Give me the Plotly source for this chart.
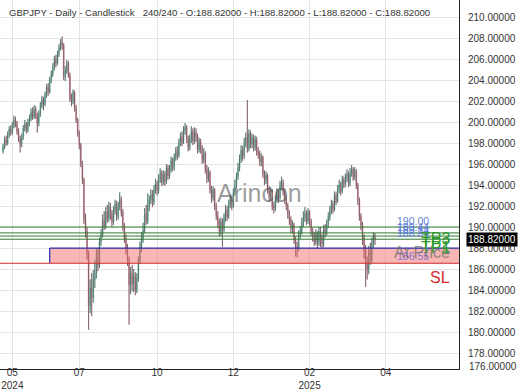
import plotly.graph_objects as go

# ---------------- data ----------------
bars = list(range(240))

opens = [
    197.2, 197.6, 198.3, 198.0, 198.8, 199.3, 199.0, 199.7, 200.2, 199.9,
    199.1, 198.4, 197.9, 198.6, 199.4, 199.8, 199.2, 199.9, 200.3, 200.9,
    200.5, 201.2, 200.6, 199.9, 200.8, 201.6, 202.1, 201.7, 202.6, 203.3,
    202.9, 204.0, 204.6, 205.2, 206.0, 205.6, 206.5, 207.1, 207.6, 207.3,
    204.3, 204.9, 205.6, 204.5, 202.2, 202.0, 202.8, 201.3, 200.2, 198.9,
    197.8, 196.0, 194.5, 190.8, 189.6, 187.5, 182.5, 184.2, 183.3, 185.0,
    185.6, 187.1, 186.4, 188.6, 189.3, 190.6, 190.1, 191.4, 190.8, 191.9,
    191.2, 190.5, 191.6, 192.2, 191.0, 192.0, 192.6, 191.4, 190.0, 188.9,
    188.0, 186.9, 184.5, 185.6, 184.6, 185.3, 184.0, 185.1, 186.8, 188.1,
    188.9, 189.7, 191.2, 190.6, 192.0, 192.6, 193.1, 192.4, 193.6, 194.1,
    193.5, 194.6, 195.1, 194.3, 195.0, 194.4, 195.6, 194.9, 195.5, 196.3,
    195.7, 196.6, 197.2, 196.8, 198.0, 198.6, 198.1, 199.2, 199.5, 198.4,
    197.6, 198.3, 199.1, 198.2, 199.0, 198.6, 197.4, 198.1, 197.5, 196.4,
    197.0, 195.5, 194.6, 195.2, 193.6, 192.8, 193.5, 192.0, 191.1, 190.4,
    189.6, 190.5, 189.8, 190.9, 191.6, 191.0, 192.2, 192.6, 192.0, 193.3,
    194.0, 194.8, 195.6, 196.5, 197.3, 196.8, 198.0, 198.5, 197.5, 198.9,
    197.9, 198.5, 197.6, 198.3, 197.1, 197.0, 196.2, 196.6, 195.1, 194.5,
    194.9, 193.6, 192.9, 193.4, 192.0, 191.8, 192.6, 193.3, 192.8, 193.9,
    194.2, 193.4, 192.7, 192.0, 191.2, 190.7, 189.9, 190.2, 188.8, 188.1,
    188.0, 189.3, 189.6, 190.4, 190.9, 191.3, 190.6, 191.4, 190.5, 189.6,
    189.1, 188.6, 189.4, 188.5, 189.6, 189.0, 188.4, 189.8, 189.5, 190.3,
    191.0, 191.5, 192.2, 191.7, 193.0, 192.5, 193.6, 194.0, 193.4, 194.5,
    194.1, 194.6, 195.0, 194.2, 195.1, 195.5, 194.8, 195.3, 194.0, 192.5,
    191.0, 190.2, 189.0, 187.8, 186.4, 186.0, 187.6, 186.9, 188.5, 189.1,
]

highs = [
    197.9, 198.6, 198.7, 199.1, 199.6, 199.7, 200.0, 200.6, 200.5, 200.1,
    199.4, 198.7, 198.9, 199.7, 200.2, 200.0, 200.3, 200.7, 201.3, 201.4,
    201.6, 201.5, 200.9, 201.1, 201.9, 202.5, 202.4, 202.9, 203.6, 203.7,
    204.3, 204.9, 205.6, 206.3, 206.4, 206.8, 207.4, 207.9, 208.15, 207.5,
    205.3, 205.9, 205.8, 204.7, 202.7, 203.1, 203.0, 201.6, 200.4, 199.2,
    198.0, 196.3, 194.7, 191.3, 190.0, 187.8, 185.0, 185.6, 185.9, 186.8,
    187.9, 188.0, 189.0, 189.8, 191.2, 191.5, 191.9, 192.1, 192.4, 192.3,
    191.6, 192.0, 192.6, 192.5, 192.4, 193.3, 192.9, 191.7, 190.4, 189.3,
    188.4, 187.2, 186.2, 186.4, 186.0, 185.7, 185.6, 187.2, 188.6, 189.5,
    190.4, 191.8, 192.1, 193.2, 193.0, 193.6, 193.5, 194.0, 194.6, 194.4,
    195.0, 195.6, 195.4, 195.4, 195.3, 196.0, 195.9, 195.9, 196.7, 196.6,
    197.0, 197.6, 197.7, 198.4, 199.0, 199.1, 199.6, 199.9, 199.7, 198.7,
    198.8, 199.6, 199.4, 199.5, 199.4, 198.9, 198.5, 198.4, 197.8, 197.5,
    197.2, 195.9, 195.7, 195.4, 193.9, 193.9, 193.7, 192.3, 191.5, 190.8,
    190.9, 190.8, 191.3, 192.1, 192.0, 192.6, 193.1, 193.0, 193.7, 194.5,
    195.2, 196.1, 196.9, 197.8, 197.7, 198.5, 199.0, 202.1, 199.3, 199.2,
    198.9, 198.8, 198.7, 198.6, 197.6, 197.3, 197.0, 196.8, 195.4, 195.3,
    195.1, 193.9, 193.8, 193.6, 192.4, 193.0, 193.7, 193.6, 194.4, 194.8,
    194.5, 193.7, 193.0, 192.3, 191.6, 191.0, 190.6, 190.4, 189.1, 188.6,
    189.7, 190.1, 190.9, 191.5, 191.9, 191.6, 191.8, 191.6, 190.8, 189.9,
    189.5, 189.8, 189.6, 190.0, 190.0, 189.3, 190.2, 190.3, 190.7, 191.4,
    192.0, 192.6, 192.5, 193.4, 193.3, 194.0, 194.5, 194.3, 194.9, 194.8,
    195.1, 195.5, 195.3, 195.6, 195.9, 195.7, 195.7, 195.5, 194.2, 192.8,
    191.3, 190.5, 189.3, 188.3, 187.2, 188.2, 188.5, 189.0, 189.5, 189.4,
]

lows = [
    197.0, 197.4, 197.7, 197.8, 198.5, 198.7, 198.8, 199.4, 199.5, 198.8,
    198.1, 197.1, 197.6, 198.3, 199.1, 198.9, 199.0, 199.6, 200.1, 200.2,
    200.3, 200.3, 199.0, 199.6, 200.5, 201.3, 201.1, 201.5, 202.3, 202.5,
    202.7, 203.7, 204.3, 204.9, 205.2, 205.4, 206.2, 206.8, 206.9, 204.0,
    203.9, 204.6, 204.2, 201.9, 201.5, 201.7, 201.0, 199.9, 198.6, 197.4,
    195.7, 194.1, 190.3, 189.0, 186.9, 180.2, 181.8, 181.5, 182.8, 184.2,
    185.1, 185.8, 186.1, 188.2, 189.0, 189.7, 189.8, 190.4, 190.5, 190.7,
    190.0, 190.2, 191.2, 190.6, 190.7, 191.6, 191.0, 189.6, 188.5, 187.4,
    186.3, 180.7, 183.6, 183.9, 183.8, 183.5, 183.7, 184.8, 186.5, 187.6,
    188.5, 189.4, 190.2, 190.3, 191.5, 192.2, 191.9, 192.1, 193.2, 193.0,
    193.2, 194.2, 193.9, 194.0, 193.9, 194.1, 194.5, 194.6, 195.2, 195.3,
    195.4, 196.3, 196.4, 196.6, 197.7, 197.7, 197.9, 198.8, 198.0, 197.2,
    197.3, 198.0, 197.8, 197.9, 198.1, 197.0, 197.1, 197.0, 196.0, 196.1,
    195.1, 194.2, 194.3, 193.2, 192.3, 192.5, 191.6, 190.7, 189.9, 189.1,
    189.2, 188.1, 189.5, 190.5, 190.6, 190.8, 191.8, 191.6, 191.8, 193.0,
    193.7, 194.5, 195.3, 196.1, 196.3, 196.5, 197.6, 197.1, 197.2, 197.5,
    197.5, 197.2, 197.3, 196.8, 196.5, 195.8, 195.8, 194.7, 194.0, 194.1,
    193.2, 192.4, 192.5, 191.6, 191.3, 191.5, 192.3, 192.3, 192.6, 193.5,
    193.0, 192.2, 191.6, 190.8, 190.2, 189.4, 189.4, 188.4, 187.2, 187.1,
    187.7, 188.9, 189.3, 190.0, 190.5, 190.2, 190.3, 190.1, 189.2, 188.6,
    188.2, 188.3, 188.0, 188.2, 188.1, 188.0, 188.1, 189.0, 189.2, 189.9,
    190.6, 191.2, 191.3, 191.5, 192.1, 192.3, 193.2, 193.0, 193.2, 193.7,
    193.8, 194.3, 193.8, 193.9, 194.8, 194.4, 194.5, 193.6, 192.1, 190.6,
    189.7, 188.3, 187.0, 184.3, 185.0, 185.5, 186.4, 186.6, 188.0, 188.3,
]

closes = [
    197.6, 198.3, 198.0, 198.8, 199.3, 199.0, 199.7, 200.2, 199.9, 199.1,
    198.4, 197.9, 198.6, 199.4, 199.8, 199.2, 199.9, 200.3, 200.9, 200.5,
    201.2, 200.6, 199.9, 200.8, 201.6, 202.1, 201.7, 202.6, 203.3, 202.9,
    204.0, 204.6, 205.2, 206.0, 205.6, 206.5, 207.1, 207.6, 207.3, 204.3,
    204.9, 205.6, 204.5, 202.2, 202.0, 202.8, 201.3, 200.2, 198.9, 197.8,
    196.0, 194.5, 190.8, 189.6, 187.5, 182.5, 184.2, 183.3, 185.0, 185.6,
    187.1, 186.4, 188.6, 189.3, 190.6, 190.1, 191.4, 190.8, 191.9, 191.2,
    190.5, 191.6, 192.2, 191.0, 192.0, 192.6, 191.4, 190.0, 188.9, 188.0,
    186.9, 184.5, 185.6, 184.6, 185.3, 184.0, 185.1, 186.8, 188.1, 188.9,
    189.7, 191.2, 190.6, 192.0, 192.6, 193.1, 192.4, 193.6, 194.1, 193.5,
    194.6, 195.1, 194.3, 195.0, 194.4, 195.6, 194.9, 195.5, 196.3, 195.7,
    196.6, 197.2, 196.8, 198.0, 198.6, 198.1, 199.2, 199.5, 198.4, 197.6,
    198.3, 199.1, 198.2, 199.0, 198.6, 197.4, 198.1, 197.5, 196.4, 197.0,
    195.5, 194.6, 195.2, 193.6, 192.8, 193.5, 192.0, 191.1, 190.4, 189.6,
    190.5, 189.8, 190.9, 191.6, 191.0, 192.2, 192.6, 192.0, 193.3, 194.0,
    194.8, 195.6, 196.5, 197.3, 196.8, 198.0, 198.5, 197.5, 198.9, 197.9,
    198.5, 197.6, 198.3, 197.1, 197.0, 196.2, 196.6, 195.1, 194.5, 194.9,
    193.6, 192.9, 193.4, 192.0, 191.8, 192.6, 193.3, 192.8, 193.9, 194.2,
    193.4, 192.7, 192.0, 191.2, 190.7, 189.9, 190.2, 188.8, 188.1, 188.0,
    189.3, 189.6, 190.4, 190.9, 191.3, 190.6, 191.4, 190.5, 189.6, 189.1,
    188.6, 189.4, 188.5, 189.6, 189.0, 188.4, 189.8, 189.5, 190.3, 191.0,
    191.5, 192.2, 191.7, 193.0, 192.5, 193.6, 194.0, 193.4, 194.5, 194.1,
    194.6, 195.0, 194.2, 195.1, 195.5, 194.8, 195.3, 194.0, 192.5, 191.0,
    190.2, 189.0, 187.8, 186.4, 186.0, 187.6, 186.9, 188.5, 189.1, 188.82,
]

tick_bars = [6, 49, 99, 148, 197, 246]
tick_labels = ["05<br>2024", "07", "10", "12", "02<br>2025", "04"]
y_ticks = list(range(176, 214, 2))

tp_levels = [190.00, 189.44, 189.14, 188.84]
tp_price_labels = ["190.00", "189.44", "189.14", "188.84"]
tp_names = ["TP3", "TP2", "TP1"]
entry_level = 188.00
entry_bar = 30
sl_level = 186.55
last_price = 188.82
title_text = ("GBPJPY - Daily - Candlestick\u00a0\u00a0\u00a0240/240 - O:188.82000 - "
              "H:188.82000 - L:188.82000 - C:188.82000")

FONT = "Liberation Sans, Arial, sans-serif"

# ---------------- figure ----------------
fig = go.Figure()

# wicks (dark)
wx, wy = [], []
for i, h, l in zip(bars, highs, lows):
    wx += [i, i, None]
    wy += [l, h, None]
fig.add_trace(go.Scatter(x=wx, y=wy, mode="lines",
                         line=dict(color="#4a4a4a", width=0.7),
                         hoverinfo="skip", showlegend=False))

fig.add_trace(go.Candlestick(
    x=bars, open=opens, high=highs, low=lows, close=closes,
    increasing=dict(line=dict(color="#72c6b6", width=0.8), fillcolor="#72c6b6"),
    decreasing=dict(line=dict(color="#e58c9c", width=0.8), fillcolor="#e58c9c"),
    whiskerwidth=0, showlegend=False))

shapes = []
shapes.append(dict(type="rect", xref="x", yref="y", x0=entry_bar, x1=300,
                   y0=sl_level, y1=entry_level,
                   fillcolor="rgba(242,110,105,0.5)", line=dict(width=0), layer="above"))
shapes.append(dict(type="line", xref="x", yref="y", x0=entry_bar, x1=entry_bar,
                   y0=sl_level, y1=entry_level, line=dict(color="#2b2bb0", width=1.2)))
shapes.append(dict(type="line", xref="x", yref="y", x0=entry_bar, x1=300,
                   y0=entry_level, y1=entry_level, line=dict(color="#2b2bb0", width=1.3)))
shapes.append(dict(type="line", xref="paper", yref="y", x0=0, x1=1,
                   y0=sl_level, y1=sl_level, line=dict(color="#cc2e2e", width=1.2)))
for lv in tp_levels:
    shapes.append(dict(type="line", xref="paper", yref="y", x0=0, x1=1,
                       y0=lv, y1=lv, line=dict(color="#2f7a2f", width=1)))

ann = []
ann.append(dict(text=title_text, xref="paper", yref="paper", x=0, y=1,
                xanchor="left", yanchor="top", xshift=7, yshift=-5, showarrow=False,
                font=dict(family=FONT, size=9.6, color="#333333")))
ann.append(dict(text="Arincon", xref="paper", yref="paper", x=0.566, y=0.477,
                showarrow=False, font=dict(family=FONT, size=25, color="rgba(90,90,90,0.6)")))
for lv, lab in zip(tp_levels, tp_price_labels):
    ann.append(dict(text=lab, xref="paper", yref="y", x=0.86, y=lv, xanchor="left",
                    yanchor="bottom", yshift=-2, showarrow=False,
                    font=dict(family=FONT, size=10.5, color="#5f7fd6")))
ann.append(dict(text="186.55", xref="paper", yref="y", x=0.86, y=sl_level, xanchor="left",
                yanchor="bottom", yshift=-1, showarrow=False,
                font=dict(family=FONT, size=10.5, color="#8a72d8")))
ann.append(dict(text="At Price", xref="paper", yref="y", x=0.985, y=entry_level,
                xanchor="right", yanchor="middle", yshift=-4, showarrow=False,
                font=dict(family=FONT, size=16, color="rgba(110,110,110,0.75)")))
for k, nm in enumerate(tp_names):
    ann.append(dict(text=nm, xref="paper", yref="y", x=0.985, y=tp_levels[1 + k],
                    xanchor="right", yanchor="middle", yshift=-6 - 1 * k, showarrow=False,
                    font=dict(family=FONT, size=16, color="#2e9a2e")))
ann.append(dict(text="SL", xref="paper", yref="y", x=0.985, y=sl_level,
                xanchor="right", yanchor="top", yshift=-4, showarrow=False,
                font=dict(family=FONT, size=16, color="#d42a2a")))
ann.append(dict(text="188.82000", xref="paper", yref="y", x=1, y=last_price,
                xanchor="left", yanchor="middle", xshift=7, showarrow=False,
                bgcolor="#000000", borderpad=1,
                font=dict(family=FONT, size=10, color="#ffffff")))
ann.append(dict(text="176.00000", xref="paper", yref="paper", x=1, y=0,
                xanchor="left", yanchor="middle", xshift=8, yshift=3, showarrow=False,
                font=dict(family=FONT, size=10, color="#333333")))
ann.append(dict(text="212.00000", xref="paper", yref="paper", x=1, y=1,
                xanchor="left", yanchor="middle", xshift=8, yshift=6, showarrow=False,
                font=dict(family=FONT, size=10, color="#333333")))

fig.update_layout(
    width=520, height=390,
    margin=dict(l=0, r=61, t=0, b=21, autoexpand=False),
    paper_bgcolor="white", plot_bgcolor="white",
    showlegend=False,
    shapes=shapes, annotations=ann,
    font=dict(family=FONT, size=10, color="#333333"),
    xaxis=dict(range=[-1.93, 293], rangeslider=dict(visible=False),
               tickmode="array", tickvals=tick_bars, ticktext=tick_labels,
               showgrid=True, gridcolor="#e4e4e4", gridwidth=1,
               showline=True, linecolor="#222222", linewidth=1,
               ticks="", ticklabelstandoff=-6,
               zeroline=False, fixedrange=True, automargin=False,
               tickfont=dict(family=FONT, size=10, color="#333333")),
    yaxis=dict(side="right", range=[176.48, 211.62],
               tickmode="array", tickvals=y_ticks,
               ticktext=[f"{v:.5f}" for v in y_ticks],
               showgrid=True, gridcolor="#e4e4e4", gridwidth=1,
               showline=True, linecolor="#222222", linewidth=1,
               ticks="outside", ticklen=6, tickcolor="rgba(0,0,0,0)",
               zeroline=False, fixedrange=True, automargin=False,
               tickfont=dict(family=FONT, size=10, color="#333333")),
)

fig.write_html("out.html",
               config={"displayModeBar": False},
               post_script="document.body.style.margin='0';document.body.style.padding='0';")
